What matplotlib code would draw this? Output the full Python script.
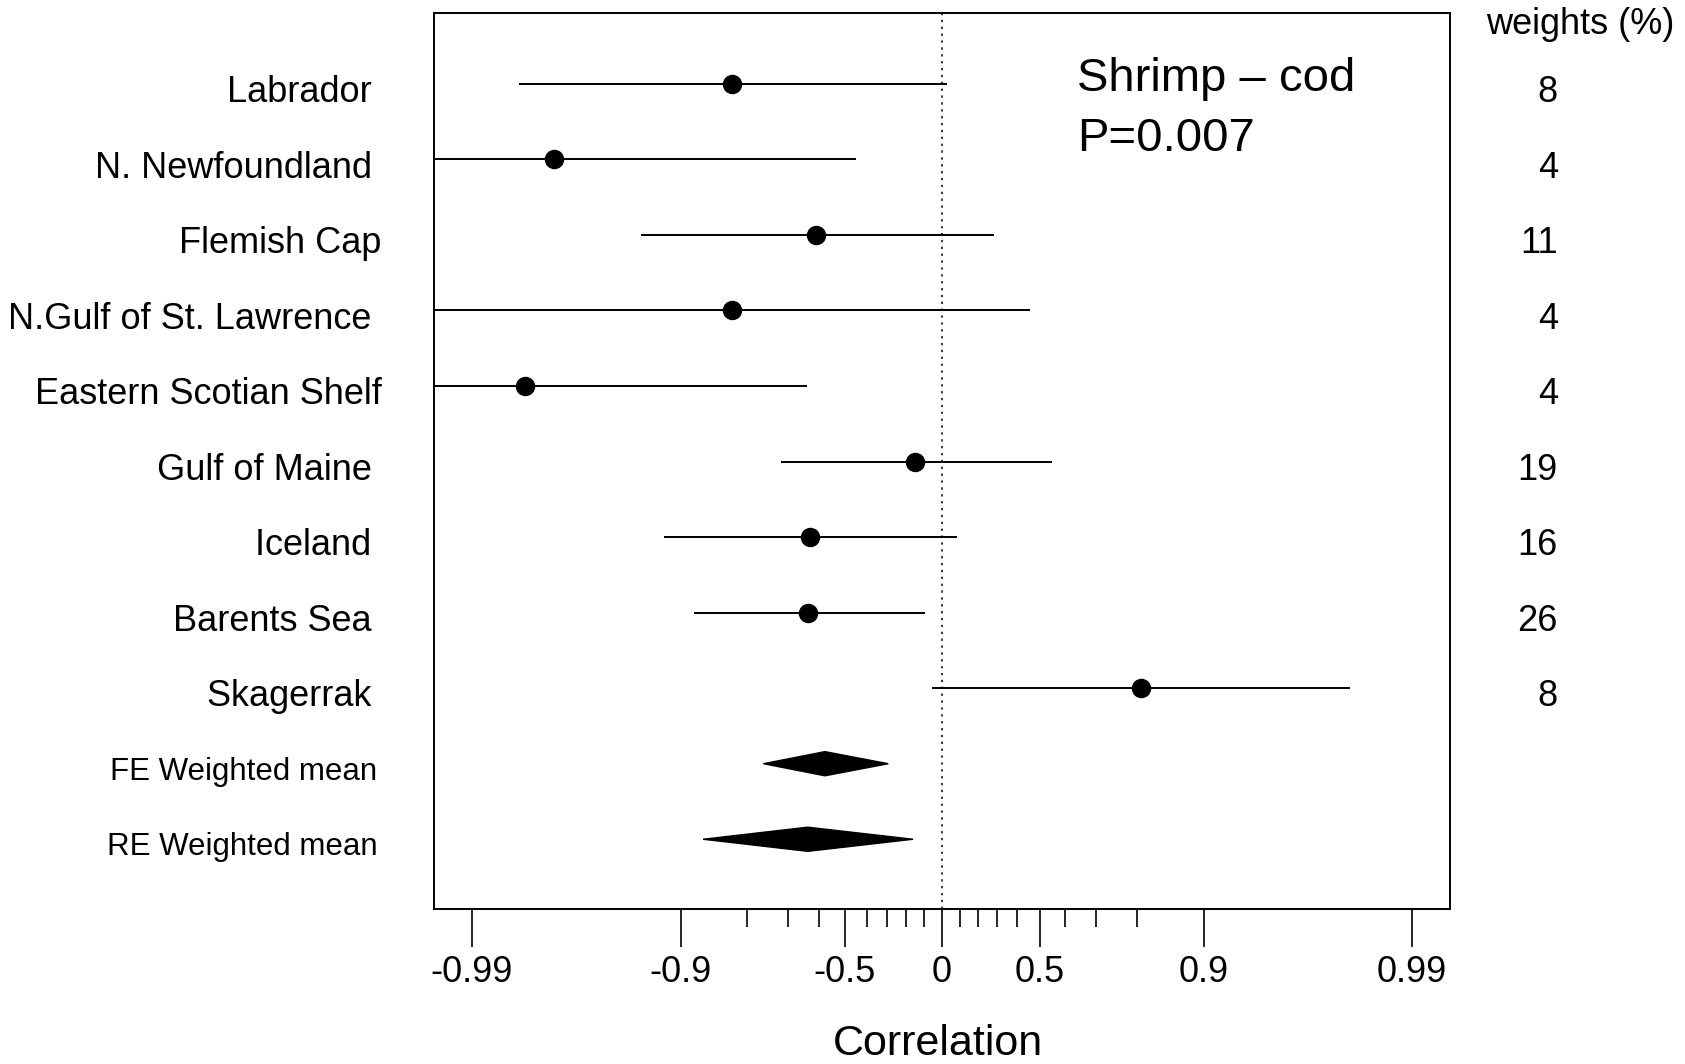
import numpy as np
import matplotlib.pyplot as plt
from matplotlib.patches import Polygon
from matplotlib.transforms import blended_transform_factory

plt.rcParams['font.family'] = ['Liberation Sans', 'DejaVu Sans']

# study rows, top to bottom
sites = ['Labrador ', 'N. Newfoundland ', 'Flemish Cap', 'N.Gulf of St. Lawrence ',
         'Eastern Scotian Shelf', 'Gulf of Maine ', 'Iceland ', 'Barents Sea ', 'Skagerrak ']
r_est = [-0.828, -0.975, -0.61, -0.828, -0.982, -0.15, -0.632, -0.639, 0.807]
r_low = [-0.983, -0.997, -0.935, -0.9935, -0.997, -0.72, -0.916, -0.885, -0.055]
r_high = [0.03, -0.45, 0.283, 0.46, -0.643, 0.55, 0.085, -0.097, 0.98]
weights = ['8', '4', '11', '4', '4', '19', '16', '26', '8']

# summary diamonds (lower, mean, upper)
summ_labels = ['FE Weighted mean', 'RE Weighted mean']
summ_low = [-0.764, -0.873]
summ_mean = [-0.578, -0.639]
summ_high = [-0.294, -0.162]

major_r = [-0.99, -0.9, -0.5, 0, 0.5, 0.9, 0.99]
major_lab = ['-0.99', '-0.9', '-0.5', '0', '0.5', '0.9', '0.99']
minor_r = [-0.8, -0.7, -0.6, -0.4, -0.3, -0.2, -0.1, 0.1, 0.2, 0.3, 0.4, 0.6, 0.7, 0.8]

fig = plt.figure(figsize=(16.85, 10.64), dpi=100)
ax = fig.add_axes([0.2576, 0.1457, 0.603, 0.842])

n = len(sites)
ys = np.arange(n + 2, 2, -1)  # 11 .. 3
ys_summ = [2, 1]

z = np.arctanh
for y, lo, est, hi in zip(ys, r_low, r_est, r_high):
    ax.plot([z(lo), z(hi)], [y, y], color='black', lw=1.4, solid_capstyle='butt')
    ax.plot(z(est), y, 'o', color='black', ms=13)

h = 0.16
for y, lo, m, hi in zip(ys_summ, summ_low, summ_mean, summ_high):
    poly = Polygon([(z(lo), y), (z(m), y + h), (z(hi), y), (z(m), y - h)],
                   closed=True, facecolor='black', edgecolor='black')
    ax.add_patch(poly)

ax.axvline(0, color='black', lw=1.1, ls=(0, (1.5, 3)))

ax.set_xlim(-2.86, 2.86)
ax.set_ylim(0.077, 11.937)
ax.set_yticks([])
ax.set_xticks(z(np.array(major_r)))
ax.set_xticklabels(major_lab, fontsize=26)
ax.set_xticks(z(np.array(minor_r)), minor=True)
ax.tick_params(axis='x', which='major', length=27, width=1.2, pad=6)
ax.tick_params(axis='x', which='minor', length=13, width=1.2)
for s in ax.spines.values():
    s.set_linewidth(1.4)

# text baselines sit a bit below each row
tr = blended_transform_factory(ax.transAxes, ax.transData)
for y, name, w in zip(ys, sites, weights):
    ax.text(-0.0517, y - 0.24, name, transform=tr, ha='right', va='baseline', fontsize=26)
    ax.text(1.106, y - 0.24, w, transform=tr, ha='right', va='baseline', fontsize=26)
for y, name in zip(ys_summ, summ_labels):
    ax.text(-0.056, y - 0.21, name, transform=tr, ha='right', va='baseline', fontsize=22.5)

ax.text(1.128, 11.66, 'weights (%)', transform=tr, ha='center', va='baseline', fontsize=26)
ax.text(0.758, 11.06, 'Shrimp \u2013 cod', ha='left', va='center', fontsize=34)
ax.text(0.758, 10.27, 'P=0.007', ha='left', va='center', fontsize=34)

fig.text(938 / 1685, 1 - 1044 / 1064, 'Correlation', ha='center', va='center', fontsize=31)

fig.savefig('out.png', dpi=100)
